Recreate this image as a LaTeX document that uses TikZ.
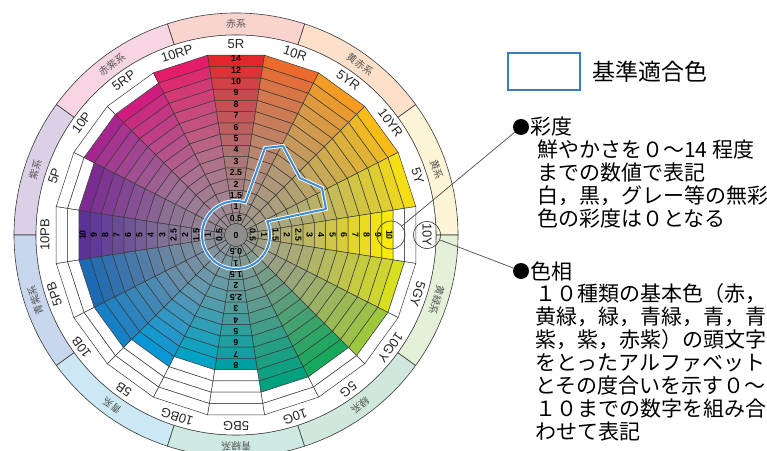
\documentclass[tikz,border=0pt]{standalone}
\usepackage{fontspec}
\setmainfont{Liberation Sans}
\newfontfamily\jp{Noto Sans CJK JP}
\definecolor{hue0}{HTML}{E3262C}
\definecolor{hue1}{HTML}{EC6A2C}
\definecolor{hue2}{HTML}{F49B21}
\definecolor{hue3}{HTML}{F8BC15}
\definecolor{hue4}{HTML}{F5DF12}
\definecolor{hue5}{HTML}{FBEA0A}
\definecolor{hue6}{HTML}{D7DF1F}
\definecolor{hue7}{HTML}{9DC73C}
\definecolor{hue8}{HTML}{18A85B}
\definecolor{hue9}{HTML}{00A17F}
\definecolor{hue10}{HTML}{00A0A2}
\definecolor{hue11}{HTML}{00A3C4}
\definecolor{hue12}{HTML}{0A97D6}
\definecolor{hue13}{HTML}{1680C6}
\definecolor{hue14}{HTML}{1C6AB3}
\definecolor{hue15}{HTML}{5B3296}
\definecolor{hue16}{HTML}{7C2B92}
\definecolor{hue17}{HTML}{A6258F}
\definecolor{hue18}{HTML}{D01C7F}
\definecolor{hue19}{HTML}{E51C69}
\definecolor{gbase}{HTML}{979797}
\definecolor{zerogray}{HTML}{8E8E8E}
\definecolor{cellline}{HTML}{3A3A3A}
\definecolor{blueline}{HTML}{3C8CD8}
\definecolor{legblue}{HTML}{3A7DC2}
\definecolor{famtext}{HTML}{555555}
\definecolor{fam0}{HTML}{FEF4D6}
\definecolor{fam1}{HTML}{FCE0CA}
\definecolor{fam2}{HTML}{F9D3CE}
\definecolor{fam3}{HTML}{F8D5E3}
\definecolor{fam4}{HTML}{DCD0E6}
\definecolor{fam5}{HTML}{C9D7EE}
\definecolor{fam6}{HTML}{CBE8F4}
\definecolor{fam7}{HTML}{CDE9E1}
\definecolor{fam8}{HTML}{D0E8DC}
\definecolor{fam9}{HTML}{E5F0D9}
\tikzset{
  cell/.style={draw=cellline, line width=0.5pt},
  famsec/.style={draw=cellline, line width=0.6pt},
  famlbl/.style={font=\jp\fontsize{10}{10}\selectfont, text=famtext, inner sep=0pt},
  huelbl/.style={font=\fontsize{13}{13}\selectfont, text=black!85, inner sep=1pt},
  chroma/.style={font=\bfseries\fontsize{8.8}{8.8}\selectfont, inner sep=0pt},
  jptext/.style={font=\jp\fontsize{21}{23}\selectfont, inner sep=0pt, anchor=west},
  conn/.style={draw=black!70, line width=0.7pt},
  bullet/.style={circle, fill=black, inner sep=0pt, minimum size=16pt},
}
\begin{document}
\begin{tikzpicture}[x=1pt,y=1pt]
\useasboundingbox (0,0) rectangle (767,450);
\clip (0,0) rectangle (767,450);
\begin{scope}[shift={(236,215)}]
  % colour-family band
  \foreach \j/\nm in {0/黄系,1/黄赤系,2/赤系,3/赤紫系,4/紫系,5/青紫系,6/青系,7/青緑系,8/緑系,9/黄緑系}{
    \pgfmathsetmacro\aa{36*\j}
    \pgfmathsetmacro\ab{36*\j+36}
    \pgfmathsetmacro\am{36*\j+18}
    \filldraw[famsec, fill=fam\j] (\aa:200) arc[start angle=\aa, end angle=\ab, radius=200]
      -- (\ab:222) arc[start angle=\ab, end angle=\aa, radius=222] -- cycle;
    \node[famlbl, rotate=\am-90] (fam\j) at (\am:211) {\nm};
  }
  \filldraw[cell, fill=white] (0,0) circle[radius=200];
  % cells
  \foreach \h/\mk/\cm in {0/15/14,1/15/14,2/15/14,3/15/14,4/15/14,5/13/10,6/14/12,7/14/12,8/13/10,9/13/10,10/11/8,11/11/8,12/12/9,13/13/10,14/13/10,15/13/10,16/13/10,17/14/12,18/14/12,19/15/14}{
    \pgfmathsetmacro\a{90-18*\h}
    \foreach \k/\c in {1/0.5,2/1,3/1.5,4/2,5/2.5,6/3,7/4,8/5,9/6,10/7,11/8,12/9,13/10,14/12,15/14}{
      \pgfmathsetmacro\ri{11+11.4*(\k-1)}
      \pgfmathsetmacro\ro{11+11.4*\k}
      \ifnum\k>\mk\relax
        \def\fc{white}
      \else
        \pgfmathtruncatemacro\p{100*pow(\c/\cm,0.8)}
        \edef\fc{hue\h!\p!gbase}
      \fi
      \filldraw[cell, fill=\fc] (\a-9:\ri) -- (\a-9:\ro) -- (\a+9:\ro) -- (\a+9:\ri) -- cycle;
    }
  }
  \node[circle, fill=zerogray, draw=cellline, line width=0.5pt, minimum size=23pt, inner sep=0pt, font=\bfseries\fontsize{8.8}{8.8}\selectfont] (zero) at (0,0) {0};
  % chroma numbers
  \foreach \h/\mk in {0/15,5/13,10/11,15/13}{
    \pgfmathsetmacro\a{90-18*\h}
    \foreach \k/\t in {1/0.5,2/1,3/1.5,4/2,5/2.5,6/3,7/4,8/5,9/6,10/7,11/8,12/9,13/10,14/12,15/14}{
      \ifnum\k>\mk\relax\else
        \pgfmathsetmacro\rr{11+11.4*(\k-0.5)}
        \node[chroma, rotate=\a-90] (n\h-\k) at (\a:\rr) {\t};
      \fi
    }
  }
  \node[circle, draw=black!80, line width=0.6pt, minimum size=28pt, inner sep=0pt] (c10) at (0:155) {};
  % hue labels
  \foreach \h/\nm in {0/5R,1/10R,2/5YR,3/10YR,4/5Y,6/5GY,7/10GY,8/5G,9/10G,10/5BG,11/10BG,12/5B,13/10B,14/5PB,15/10PB,16/5P,17/10P,18/5RP,19/10RP}{
    \pgfmathsetmacro\a{90-18*\h}
    \node[huelbl, rotate=\a-90] (hl\h) at (\a:191) {\nm};
  }
  \node[huelbl, circle, draw=black!80, line width=0.6pt, inner sep=0pt, minimum size=27pt, rotate=-90] (hl5) at (0:191) {10Y};
  % standard-compliant boundary
  \draw[blueline, line width=2pt, line join=round, preaction={draw=white, line width=3.8pt}]
    (74:34) -- (29,87) -- (47,89) -- (64,57) -- (86,47) -- (90,26) -- (23.6:34)
    arc[start angle=23.6, end angle=-286, radius=34] -- cycle;
\end{scope}
% legend
\node[draw=legblue, line width=2pt, minimum width=72pt, minimum height=37pt, inner sep=0pt] (leg) at (544,378) {};
\node[font=\jp\fontsize{23}{23}\selectfont, anchor=west, inner sep=0pt] (legt) at (592,378) {基準適合色};
% chroma explanation
\node[bullet] (dotA) at (521,323) {};
\node[jptext] (tA0) at (530,323) {彩度};
\node[jptext] (tA1) at (537,300) {鮮やかさを０～14 程度};
\node[jptext] (tA2) at (537,277) {までの数値で表記};
\node[jptext] (tA3) at (537,254) {白，黒，グレー等の無彩};
\node[jptext] (tA4) at (537,231) {色の彩度は０となる};
% hue explanation
\node[bullet] (dotB) at (521,179) {};
\node[jptext] (tB0) at (530,179) {色相};
\node[jptext] (tB1) at (535,156) {１０種類の基本色（赤，};
\node[jptext] (tB2) at (535,133) {黄緑，緑，青緑，青，青};
\node[jptext] (tB3) at (535,110) {紫，紫，赤紫）の頭文字};
\node[jptext] (tB4) at (535,87) {をとったアルファベット};
\node[jptext] (tB5) at (535,64) {とその度合いを示す０～};
\node[jptext] (tB6) at (535,41) {１０までの数字を組み合};
\node[jptext] (tB7) at (535,18) {わせて表記};
\draw[conn] (c10) -- (dotA);
\draw[conn] (hl5) -- (dotB);
\end{tikzpicture}
\end{document}
